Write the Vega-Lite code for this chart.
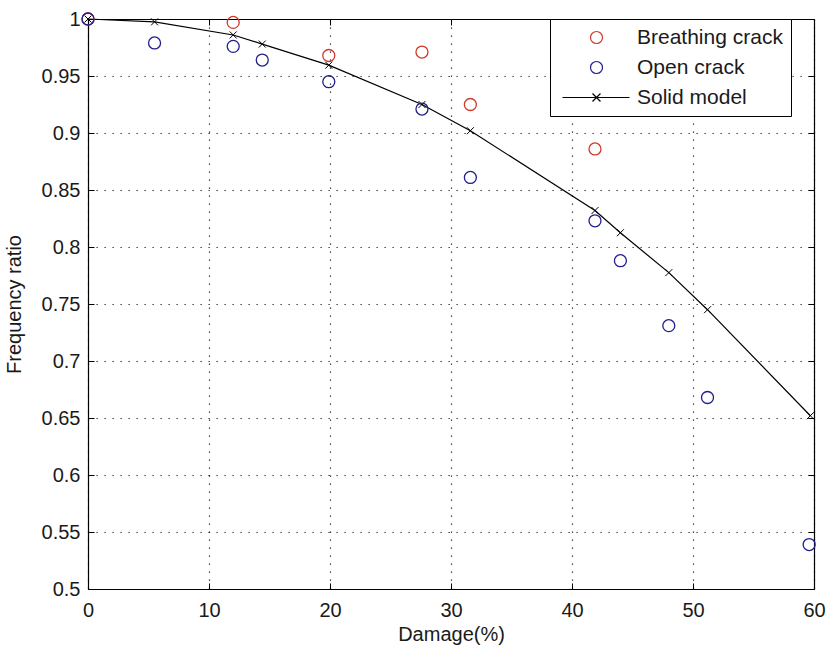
{
  "$schema": "https://vega.github.io/schema/vega-lite/v6.json",
  "width": 726,
  "height": 570,
  "autosize": {"type": "none"},
  "padding": {"left": 88, "top": 19, "right": 12, "bottom": 64},
  "background": "white",
  "config": {
    "font": "Liberation Sans",
    "view": {"stroke": null},
    "axis": {
      "domainColor": "#000000",
      "domainWidth": 1.2,
      "tickColor": "#000000",
      "tickSize": -6,
      "tickWidth": 1,
      "labelFont": "Liberation Sans",
      "labelFontSize": 20,
      "labelColor": "#1a1a1a",
      "labelFlush": false,
      "titleFont": "Liberation Sans",
      "titleFontSize": 20,
      "titleFontWeight": "normal",
      "titleColor": "#1a1a1a",
      "gridColor": "#000000",
      "gridDash": [1.2, 6.8],
      "gridOpacity": 0.9,
      "gridWidth": 1.2
    },
    "legend": {
      "labelFont": "Liberation Sans"
    }
  },
  "datasets": {
    "pts": [
      {"series": "Breathing crack", "damage": 0, "ratio": 1},
      {"series": "Breathing crack", "damage": 12.0, "ratio": 0.997},
      {"series": "Breathing crack", "damage": 19.9, "ratio": 0.968},
      {"series": "Breathing crack", "damage": 27.6, "ratio": 0.971},
      {"series": "Breathing crack", "damage": 31.6, "ratio": 0.925},
      {"series": "Breathing crack", "damage": 41.9, "ratio": 0.886},
      {"series": "Open crack", "damage": 0, "ratio": 1},
      {"series": "Open crack", "damage": 5.5, "ratio": 0.979},
      {"series": "Open crack", "damage": 12.0, "ratio": 0.976},
      {"series": "Open crack", "damage": 14.4, "ratio": 0.964},
      {"series": "Open crack", "damage": 19.9, "ratio": 0.945},
      {"series": "Open crack", "damage": 27.6, "ratio": 0.921},
      {"series": "Open crack", "damage": 31.6, "ratio": 0.861},
      {"series": "Open crack", "damage": 41.9, "ratio": 0.823},
      {"series": "Open crack", "damage": 44.0, "ratio": 0.788},
      {"series": "Open crack", "damage": 48.0, "ratio": 0.731},
      {"series": "Open crack", "damage": 51.2, "ratio": 0.668},
      {"series": "Open crack", "damage": 59.6, "ratio": 0.539}
    ],
    "solid": [
      {"series": "Solid model", "damage": 0, "ratio": 1},
      {"series": "Solid model", "damage": 5.5, "ratio": 0.9975},
      {"series": "Solid model", "damage": 12.0, "ratio": 0.986},
      {"series": "Solid model", "damage": 14.4, "ratio": 0.978},
      {"series": "Solid model", "damage": 19.9, "ratio": 0.9595},
      {"series": "Solid model", "damage": 27.6, "ratio": 0.925},
      {"series": "Solid model", "damage": 31.6, "ratio": 0.902},
      {"series": "Solid model", "damage": 41.9, "ratio": 0.832},
      {"series": "Solid model", "damage": 44.0, "ratio": 0.8125},
      {"series": "Solid model", "damage": 48.0, "ratio": 0.7775},
      {"series": "Solid model", "damage": 51.2, "ratio": 0.745},
      {"series": "Solid model", "damage": 59.7, "ratio": 0.652}
    ]
  },
  "resolve": {"axis": {"x": "independent", "y": "independent"}},
  "layer": [
    {
      "data": {"name": "solid"},
      "mark": {"type": "line", "color": "#000000", "strokeWidth": 1.2},
      "encoding": {
        "x": {
          "field": "damage", "type": "quantitative",
          "scale": {"domain": [0, 60], "nice": false, "zero": false},
          "axis": {
            "orient": "bottom",
            "values": [0, 10, 20, 30, 40, 50, 60],
            "grid": true,
            "labelPadding": 17,
            "title": "Damage(%)",
            "titlePadding": 4
          }
        },
        "y": {
          "field": "ratio", "type": "quantitative",
          "scale": {"domain": [0.5, 1], "nice": false, "zero": false},
          "axis": {
            "orient": "left",
            "values": [0.5, 0.55, 0.6, 0.65, 0.7, 0.75, 0.8, 0.85, 0.9, 0.95, 1],
            "format": "~g",
            "grid": true,
            "labelPadding": 14,
            "title": "Frequency ratio",
            "titlePadding": 17
          }
        }
      }
    },
    {
      "data": {"name": "solid"},
      "mark": {
        "type": "point",
        "shape": "M-1,-1L1,1M-1,1L1,-1",
        "size": 49,
        "filled": false,
        "color": "#000000",
        "strokeWidth": 1,
        "opacity": 1
      },
      "encoding": {
        "x": {
          "field": "damage", "type": "quantitative",
          "axis": {"orient": "top", "values": [0, 10, 20, 30, 40, 50, 60], "labels": false, "grid": false, "title": null}
        },
        "y": {
          "field": "ratio", "type": "quantitative",
          "axis": {"orient": "right", "values": [0.5, 0.55, 0.6, 0.65, 0.7, 0.75, 0.8, 0.85, 0.9, 0.95, 1], "labels": false, "grid": false, "title": null}
        }
      }
    },
    {
      "data": {"name": "pts"},
      "mark": {"type": "point", "filled": false, "size": 144, "strokeWidth": 1.3, "opacity": 1},
      "encoding": {
        "x": {"field": "damage", "type": "quantitative", "axis": null},
        "y": {"field": "ratio", "type": "quantitative", "axis": null},
        "color": {
          "field": "series", "type": "nominal",
          "scale": {
            "domain": ["Breathing crack", "Open crack", "Solid model"],
            "range": ["#d03a2a", "#1e1e90", "#000000"]
          },
          "legend": {
            "title": null,
            "orient": "none",
            "legendX": 462,
            "legendY": 0,
            "padding": 8,
            "strokeColor": "#000000",
            "fillColor": "#ffffff",
            "symbolSize": 144,
            "symbolStrokeWidth": 1.2,
            "symbolType": {"expr": "datum.value === 'Solid model' ? 'M-1,0H10.17M4,-0.67L5.33,0.67M4,0.67L5.33,-0.67' : 'M5.667,0A1,1 0 1,1 3.667,0A1,1 0 1,1 5.667,0Z'"},
            "labelFontSize": 21,
            "labelColor": "#1a1a1a",
            "labelOffset": 58,
            "rowPadding": 8
          }
        }
      }
    }
  ]
}
